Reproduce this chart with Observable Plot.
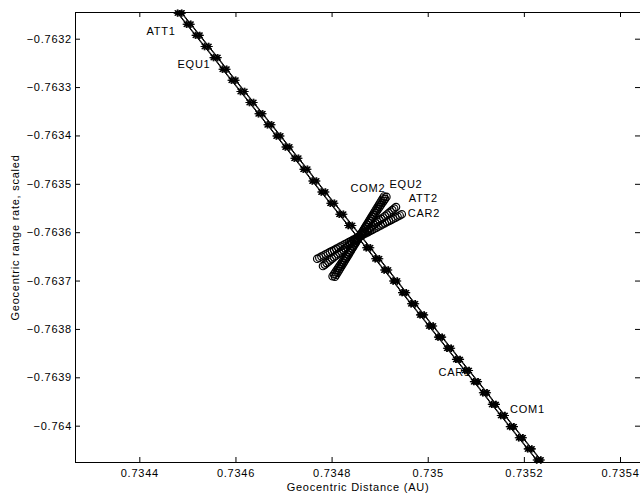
<!DOCTYPE html>
<html>
<head>
<meta charset="utf-8">
<script src="https://cdn.jsdelivr.net/npm/d3@7"></script>
<script src="https://cdn.jsdelivr.net/npm/@observablehq/plot@0.6"></script>
<style>
  html, body { margin: 0; padding: 0; background: #fff; }
  svg text { letter-spacing: 0.75px; }
</style>
</head>
<body>
<div id="chart"></div>
<script>
// ---- axis ticks ----
const xTicks = [0.7344, 0.7346, 0.7348, 0.735, 0.7352, 0.7354];
const yTicks = [-0.7632, -0.7633, -0.7634, -0.7635, -0.7636, -0.7637, -0.7638, -0.7639, -0.764];
const xDomain = [0.7342662, 0.7354416];
const yDomain = [-0.7640751, -0.7631448];
const xTitle = "Geocentric Distance (AU)";
const yTitle = "Geocentric range rate, scaled";

// ---- "1" series (line with * markers), shared y values ----
const trackY = [-0.763146, -0.763169, -0.763192, -0.763215, -0.763238, -0.763262, -0.763285, -0.763308, -0.763331, -0.763354,
  -0.763377, -0.763400, -0.763423, -0.763446, -0.763469, -0.763493, -0.763516, -0.763539, -0.763562, -0.763585,
  -0.763608, -0.763631, -0.763654, -0.763677, -0.763700, -0.763724, -0.763747, -0.763770, -0.763793, -0.763816,
  -0.763839, -0.763862, -0.763885, -0.763908, -0.763931, -0.763955, -0.763978, -0.764001, -0.764024, -0.764047, -0.764070];
const att1X = [0.7344780, 0.7344967, 0.7345154, 0.7345340, 0.7345527, 0.7345714, 0.7345901, 0.7346087, 0.7346274, 0.7346461,
  0.7346648, 0.7346834, 0.7347021, 0.7347208, 0.7347395, 0.7347581, 0.7347768, 0.7347955, 0.7348142, 0.7348328,
  0.7348515, 0.7348702, 0.7348889, 0.7349075, 0.7349262, 0.7349449, 0.7349636, 0.7349822, 0.7350009, 0.7350196,
  0.7350383, 0.7350569, 0.7350756, 0.7350943, 0.7351130, 0.7351316, 0.7351503, 0.7351690, 0.7351877, 0.7352063, 0.7352250];
const equ1X = [0.7344795, 0.7344982, 0.7345169, 0.7345355, 0.7345542, 0.7345729, 0.7345916, 0.7346102, 0.7346289, 0.7346476,
  0.7346663, 0.7346849, 0.7347036, 0.7347223, 0.7347410, 0.7347596, 0.7347783, 0.7347970, 0.7348157, 0.7348343,
  0.7348530, 0.7348717, 0.7348904, 0.7349090, 0.7349277, 0.7349464, 0.7349651, 0.7349837, 0.7350024, 0.7350211,
  0.7350398, 0.7350584, 0.7350771, 0.7350958, 0.7351145, 0.7351331, 0.7351518, 0.7351705, 0.7351892, 0.7352078, 0.7352265];
const car1X = [0.7344865, 0.7345052, 0.7345239, 0.7345425, 0.7345612, 0.7345799, 0.7345986, 0.7346172, 0.7346359, 0.7346546,
  0.7346733, 0.7346919, 0.7347106, 0.7347293, 0.7347480, 0.7347666, 0.7347853, 0.7348040, 0.7348227, 0.7348413,
  0.7348600, 0.7348787, 0.7348974, 0.7349160, 0.7349347, 0.7349534, 0.7349721, 0.7349907, 0.7350094, 0.7350281,
  0.7350468, 0.7350654, 0.7350841, 0.7351028, 0.7351215, 0.7351401, 0.7351588, 0.7351775, 0.7351962, 0.7352148, 0.7352335];
const com1X = [0.7344880, 0.7345067, 0.7345254, 0.7345440, 0.7345627, 0.7345814, 0.7346001, 0.7346187, 0.7346374, 0.7346561,
  0.7346748, 0.7346934, 0.7347121, 0.7347308, 0.7347495, 0.7347681, 0.7347868, 0.7348055, 0.7348242, 0.7348428,
  0.7348615, 0.7348802, 0.7348989, 0.7349175, 0.7349362, 0.7349549, 0.7349736, 0.7349922, 0.7350109, 0.7350296,
  0.7350483, 0.7350669, 0.7350856, 0.7351043, 0.7351230, 0.7351416, 0.7351603, 0.7351790, 0.7351977, 0.7352163, 0.7352350];

// ---- "2" series (o markers) ----
const com2X = [0.7348060, 0.7348086, 0.7348111, 0.7348137, 0.7348162, 0.7348188, 0.7348213, 0.7348239, 0.7348264, 0.7348290,
  0.7348315, 0.7348341, 0.7348366, 0.7348392, 0.7348417, 0.7348443, 0.7348468, 0.7348494, 0.7348519, 0.7348545,
  0.7348570, 0.7348596, 0.7348621, 0.7348647, 0.7348672, 0.7348698, 0.7348723, 0.7348749, 0.7348774, 0.7348800,
  0.7348825, 0.7348851, 0.7348876, 0.7348902, 0.7348927, 0.7348953, 0.7348978, 0.7349004, 0.7349029, 0.7349055, 0.7349080];
const com2Y = [-0.7636910, -0.7636869, -0.7636827, -0.7636786, -0.7636744, -0.7636703, -0.7636661, -0.7636620, -0.7636578, -0.7636537,
  -0.7636495, -0.7636454, -0.7636412, -0.7636371, -0.7636329, -0.7636288, -0.7636246, -0.7636205, -0.7636163, -0.7636122,
  -0.7636080, -0.7636039, -0.7635997, -0.7635956, -0.7635914, -0.7635873, -0.7635831, -0.7635790, -0.7635748, -0.7635707,
  -0.7635665, -0.7635624, -0.7635582, -0.7635541, -0.7635499, -0.7635458, -0.7635416, -0.7635375, -0.7635333, -0.7635292, -0.7635250];
const equ2X = [0.7348010, 0.7348038, 0.7348066, 0.7348094, 0.7348122, 0.7348150, 0.7348178, 0.7348206, 0.7348234, 0.7348262,
  0.7348290, 0.7348318, 0.7348346, 0.7348374, 0.7348402, 0.7348430, 0.7348458, 0.7348486, 0.7348514, 0.7348542,
  0.7348570, 0.7348598, 0.7348626, 0.7348654, 0.7348682, 0.7348710, 0.7348738, 0.7348766, 0.7348794, 0.7348822,
  0.7348850, 0.7348878, 0.7348906, 0.7348934, 0.7348962, 0.7348990, 0.7349018, 0.7349046, 0.7349074, 0.7349102, 0.7349130];
const equ2Y = [-0.7636900, -0.7636859, -0.7636818, -0.7636777, -0.7636736, -0.7636695, -0.7636654, -0.7636613, -0.7636572, -0.7636531,
  -0.7636490, -0.7636449, -0.7636408, -0.7636367, -0.7636326, -0.7636285, -0.7636244, -0.7636203, -0.7636162, -0.7636121,
  -0.7636080, -0.7636039, -0.7635998, -0.7635957, -0.7635916, -0.7635875, -0.7635834, -0.7635793, -0.7635752, -0.7635711,
  -0.7635670, -0.7635629, -0.7635588, -0.7635547, -0.7635506, -0.7635465, -0.7635424, -0.7635383, -0.7635342, -0.7635301, -0.7635260];
const att2X = [0.7347810, 0.7347848, 0.7347886, 0.7347924, 0.7347962, 0.7348000, 0.7348038, 0.7348076, 0.7348114, 0.7348152,
  0.7348190, 0.7348228, 0.7348266, 0.7348304, 0.7348342, 0.7348380, 0.7348418, 0.7348456, 0.7348494, 0.7348532,
  0.7348570, 0.7348608, 0.7348646, 0.7348684, 0.7348722, 0.7348760, 0.7348798, 0.7348836, 0.7348874, 0.7348912,
  0.7348950, 0.7348988, 0.7349026, 0.7349064, 0.7349102, 0.7349140, 0.7349178, 0.7349216, 0.7349254, 0.7349292, 0.7349330];
const att2Y = [-0.7636690, -0.7636660, -0.7636629, -0.7636599, -0.7636568, -0.7636538, -0.7636507, -0.7636477, -0.7636446, -0.7636416,
  -0.7636385, -0.7636355, -0.7636324, -0.7636294, -0.7636263, -0.7636233, -0.7636202, -0.7636172, -0.7636141, -0.7636111,
  -0.7636080, -0.7636050, -0.7636019, -0.7635989, -0.7635958, -0.7635928, -0.7635897, -0.7635867, -0.7635836, -0.7635806,
  -0.7635775, -0.7635745, -0.7635714, -0.7635684, -0.7635653, -0.7635623, -0.7635592, -0.7635562, -0.7635531, -0.7635501, -0.7635470];
const car2X = [0.7347690, 0.7347734, 0.7347778, 0.7347822, 0.7347866, 0.7347910, 0.7347954, 0.7347998, 0.7348042, 0.7348086,
  0.7348130, 0.7348174, 0.7348218, 0.7348262, 0.7348306, 0.7348350, 0.7348394, 0.7348438, 0.7348482, 0.7348526,
  0.7348570, 0.7348614, 0.7348658, 0.7348702, 0.7348746, 0.7348790, 0.7348834, 0.7348878, 0.7348922, 0.7348966,
  0.7349010, 0.7349054, 0.7349098, 0.7349142, 0.7349186, 0.7349230, 0.7349274, 0.7349318, 0.7349362, 0.7349406, 0.7349450];
const car2Y = [-0.7636540, -0.7636517, -0.7636494, -0.7636471, -0.7636448, -0.7636425, -0.7636402, -0.7636379, -0.7636356, -0.7636333,
  -0.7636310, -0.7636287, -0.7636264, -0.7636241, -0.7636218, -0.7636195, -0.7636172, -0.7636149, -0.7636126, -0.7636103,
  -0.7636080, -0.7636057, -0.7636034, -0.7636011, -0.7635988, -0.7635965, -0.7635942, -0.7635919, -0.7635896, -0.7635873,
  -0.7635850, -0.7635827, -0.7635804, -0.7635781, -0.7635758, -0.7635735, -0.7635712, -0.7635689, -0.7635666, -0.7635643, -0.7635620];

// ---- series labels (text anchored at its left edge) ----
const labelNames = ["ATT1", "EQU1", "CAR1", "COM1", "COM2", "EQU2", "ATT2", "CAR2"];
const labelX = [0.7344139, 0.7344784, 0.7350214, 0.7351701, 0.7348383, 0.7349195, 0.7349596, 0.7349575];
const labelY = [-0.7631830, -0.7632519, -0.7638884, -0.7639645, -0.7635093, -0.7634997, -0.7635293, -0.7635609];

// ---- build tables ----
const trackSeries = [["ATT1", att1X], ["EQU1", equ1X], ["CAR1", car1X], ["COM1", com1X]];
const track = trackSeries.flatMap(([name, xs]) => xs.map((x, i) => ({series: name, x, y: trackY[i]})));
const raySeries = [["COM2", com2X, com2Y], ["EQU2", equ2X, equ2Y], ["ATT2", att2X, att2Y], ["CAR2", car2X, car2Y]];
const rays = raySeries.flatMap(([name, xs, ys]) => xs.map((x, i) => ({series: name, x, y: ys[i]})));
const labels = labelNames.map((t, i) => ({text: t, x: labelX[i], y: labelY[i]}));

// MATLAB-like '*' marker (+ overlaid with x)
const asterisk8 = {
  draw(ctx, size) {
    const r = Math.sqrt(size / Math.PI);
    const d = r * Math.SQRT1_2;
    ctx.moveTo(-r, 0); ctx.lineTo(r, 0);
    ctx.moveTo(0, -r); ctx.lineTo(0, r);
    ctx.moveTo(-d, -d); ctx.lineTo(d, d);
    ctx.moveTo(-d, d); ctx.lineTo(d, -d);
  }
};

const fmt = d => (d < 0 ? "\u2212" : "") + String(+Math.abs(d).toFixed(4));

const W = 640, H = 496, mL = 75, mR = 0, mT = 12, mB = 34;
const plotW = W - mL - mR, plotH = H - mT - mB;

const chart = Plot.plot({
  width: W,
  height: H,
  marginLeft: mL,
  marginRight: mR,
  marginTop: mT,
  marginBottom: mB,
  style: {fontFamily: "'Liberation Sans', Arial, Helvetica, sans-serif", fontSize: "11px", background: "#fff", color: "#000", overflow: "visible"},
  x: {domain: xDomain},
  y: {domain: yDomain},
  marks: [
    // frame (top, bottom, left)
    Plot.ruleY(yDomain, {stroke: "black", strokeWidth: 1}),
    Plot.ruleX([xDomain[0]], {stroke: "black", strokeWidth: 1}),
    // inward ticks
    Plot.tickX(xTicks, {x: d => d, insetTop: plotH - 5, stroke: "black"}),
    Plot.tickX(xTicks, {x: d => d, insetBottom: plotH - 5, stroke: "black"}),
    Plot.tickY(yTicks, {y: d => d, insetRight: plotW - 5, stroke: "black"}),
    Plot.tickY(yTicks, {y: d => d, insetLeft: plotW - 5, stroke: "black"}),
    Plot.axisX({ticks: xTicks, tickSize: 0, tickPadding: 7, tickFormat: fmt, label: null, fill: "black"}),
    Plot.axisY({ticks: yTicks, tickSize: 0, tickPadding: 3.5, tickFormat: fmt, label: null, fill: "black"}),
    // axis titles
    Plot.text([xTitle], {frameAnchor: "bottom", dy: 25, textAnchor: "middle", lineAnchor: "middle", fill: "black"}),
    Plot.text([yTitle], {frameAnchor: "left", dx: -60, rotate: -90, textAnchor: "middle", lineAnchor: "middle", fill: "black"}),
    // series labels
    Plot.text(labels, {x: "x", y: "y", text: "text", textAnchor: "start", lineAnchor: "middle", fill: "black"}),
    // "1" series: lines with * markers
    Plot.line(track, {x: "x", y: "y", z: "series", stroke: "black", strokeWidth: 1}),
    Plot.dot(track, {x: "x", y: "y", symbol: asterisk8, r: 3.7, stroke: "black", fill: "none", strokeWidth: 1.1}),
    // "2" series: o markers
    Plot.dot(rays, {x: "x", y: "y", r: 3.7, stroke: "black", fill: "none", strokeWidth: 1.15})
  ]
});
document.getElementById("chart").appendChild(chart);
</script>
</body>
</html>
